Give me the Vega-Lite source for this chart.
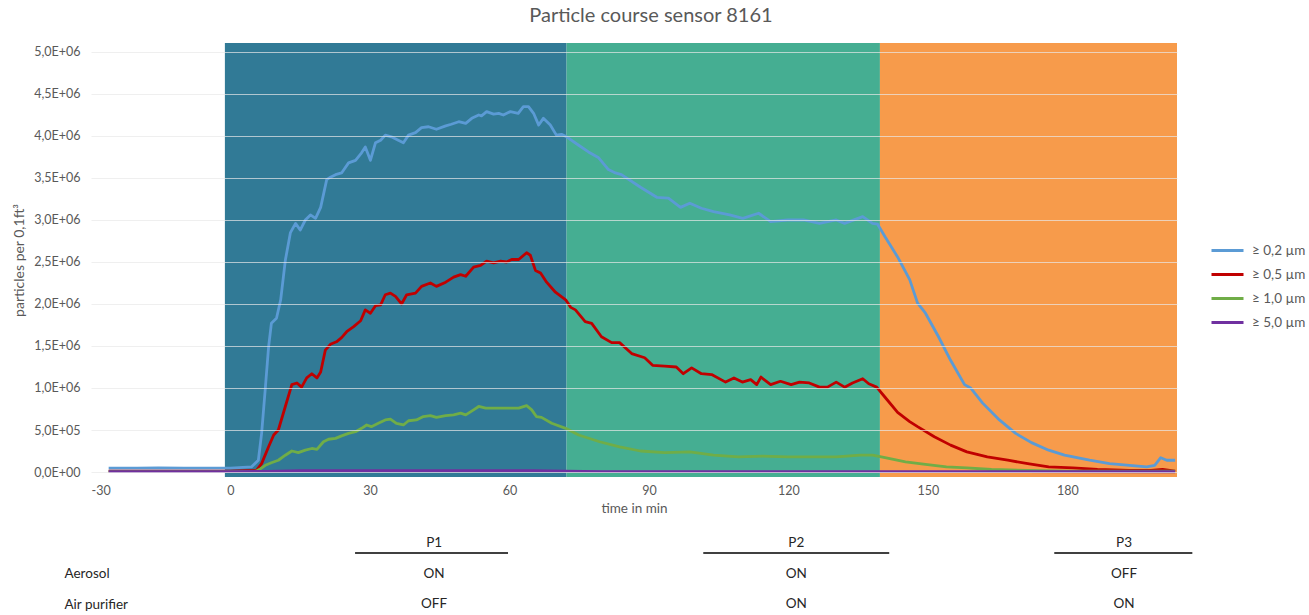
{
  "$schema": "https://vega.github.io/schema/vega-lite/v6.json",
  "width": 1086,
  "height": 434,
  "autosize": {"type": "none"},
  "padding": {"left": 91, "top": 43, "right": 132, "bottom": 138},
  "background": "white",
  "title": {"text": "Particle course sensor 8161", "anchor": "middle", "dx": 17, "offset": 17, "font": "Lato", "fontSize": 20, "fontWeight": "normal", "color": "#595959"},
  "config": {
    "view": {"stroke": null},
    "axis": {"labelFont": "Lato", "labelFontSize": 12.5, "labelColor": "#595959", "titleFont": "Lato", "titleFontSize": 13.5, "titleColor": "#595959", "titleFontWeight": "normal"},
    "legend": {"labelFont": "Lato", "labelFontSize": 13.5, "labelColor": "#595959"}
  },
  "datasets": {
    "regions": [
      {"phase": "P1", "start": -1.2, "end": 72.3},
      {"phase": "P2", "start": 72.3, "end": 139.7},
      {"phase": "P3", "start": 139.7, "end": 203.6}
    ],
    "series": [
      {"s": "≥ 0,2 µm", "t": -26.2, "v": 45000}, {"s": "≥ 0,2 µm", "t": -20, "v": 45000}, {"s": "≥ 0,2 µm", "t": -15.5, "v": 50000}, {"s": "≥ 0,2 µm", "t": -10, "v": 45000}, {"s": "≥ 0,2 µm", "t": -5, "v": 45000}, {"s": "≥ 0,2 µm", "t": 0, "v": 45000}, {"s": "≥ 0,2 µm", "t": 4.5, "v": 60000}, {"s": "≥ 0,2 µm", "t": 6, "v": 140000}, {"s": "≥ 0,2 µm", "t": 6.7, "v": 460000}, {"s": "≥ 0,2 µm", "t": 7.5, "v": 1000000}, {"s": "≥ 0,2 µm", "t": 8.2, "v": 1490000}, {"s": "≥ 0,2 µm", "t": 8.8, "v": 1770000}, {"s": "≥ 0,2 µm", "t": 9.9, "v": 1830000}, {"s": "≥ 0,2 µm", "t": 10.8, "v": 2050000}, {"s": "≥ 0,2 µm", "t": 11.8, "v": 2520000}, {"s": "≥ 0,2 µm", "t": 12.9, "v": 2850000}, {"s": "≥ 0,2 µm", "t": 14, "v": 2960000}, {"s": "≥ 0,2 µm", "t": 15, "v": 2880000}, {"s": "≥ 0,2 µm", "t": 16.1, "v": 3000000}, {"s": "≥ 0,2 µm", "t": 17.2, "v": 3060000}, {"s": "≥ 0,2 µm", "t": 18.3, "v": 3020000}, {"s": "≥ 0,2 µm", "t": 19.4, "v": 3150000}, {"s": "≥ 0,2 µm", "t": 20.7, "v": 3480000}, {"s": "≥ 0,2 µm", "t": 21.5, "v": 3510000}, {"s": "≥ 0,2 µm", "t": 22.6, "v": 3540000}, {"s": "≥ 0,2 µm", "t": 23.9, "v": 3560000}, {"s": "≥ 0,2 µm", "t": 25.4, "v": 3680000}, {"s": "≥ 0,2 µm", "t": 26.9, "v": 3710000}, {"s": "≥ 0,2 µm", "t": 28.2, "v": 3800000}, {"s": "≥ 0,2 µm", "t": 29, "v": 3870000}, {"s": "≥ 0,2 µm", "t": 30.1, "v": 3710000}, {"s": "≥ 0,2 µm", "t": 31.2, "v": 3920000}, {"s": "≥ 0,2 µm", "t": 32.3, "v": 3950000}, {"s": "≥ 0,2 µm", "t": 33.3, "v": 4010000}, {"s": "≥ 0,2 µm", "t": 34.6, "v": 3990000}, {"s": "≥ 0,2 µm", "t": 36.1, "v": 3950000}, {"s": "≥ 0,2 µm", "t": 37.2, "v": 3920000}, {"s": "≥ 0,2 µm", "t": 38.3, "v": 4010000}, {"s": "≥ 0,2 µm", "t": 39.8, "v": 4040000}, {"s": "≥ 0,2 µm", "t": 41.1, "v": 4100000}, {"s": "≥ 0,2 µm", "t": 42.6, "v": 4110000}, {"s": "≥ 0,2 µm", "t": 44.3, "v": 4080000}, {"s": "≥ 0,2 µm", "t": 46.3, "v": 4120000}, {"s": "≥ 0,2 µm", "t": 47.5, "v": 4140000}, {"s": "≥ 0,2 µm", "t": 49.1, "v": 4170000}, {"s": "≥ 0,2 µm", "t": 50.6, "v": 4150000}, {"s": "≥ 0,2 µm", "t": 51.9, "v": 4210000}, {"s": "≥ 0,2 µm", "t": 53.4, "v": 4250000}, {"s": "≥ 0,2 µm", "t": 54, "v": 4240000}, {"s": "≥ 0,2 µm", "t": 55.1, "v": 4290000}, {"s": "≥ 0,2 µm", "t": 56.6, "v": 4260000}, {"s": "≥ 0,2 µm", "t": 57.7, "v": 4270000}, {"s": "≥ 0,2 µm", "t": 58.7, "v": 4250000}, {"s": "≥ 0,2 µm", "t": 60.2, "v": 4290000}, {"s": "≥ 0,2 µm", "t": 61.9, "v": 4270000}, {"s": "≥ 0,2 µm", "t": 63, "v": 4350000}, {"s": "≥ 0,2 µm", "t": 64.1, "v": 4350000}, {"s": "≥ 0,2 µm", "t": 65.2, "v": 4270000}, {"s": "≥ 0,2 µm", "t": 66.3, "v": 4130000}, {"s": "≥ 0,2 µm", "t": 67.3, "v": 4210000}, {"s": "≥ 0,2 µm", "t": 68.8, "v": 4130000}, {"s": "≥ 0,2 µm", "t": 70.1, "v": 4010000}, {"s": "≥ 0,2 µm", "t": 71.2, "v": 4020000}, {"s": "≥ 0,2 µm", "t": 72.3, "v": 3990000}, {"s": "≥ 0,2 µm", "t": 74.9, "v": 3890000}, {"s": "≥ 0,2 µm", "t": 77, "v": 3810000}, {"s": "≥ 0,2 µm", "t": 79.2, "v": 3740000}, {"s": "≥ 0,2 µm", "t": 81.3, "v": 3600000}, {"s": "≥ 0,2 µm", "t": 82.8, "v": 3560000}, {"s": "≥ 0,2 µm", "t": 84.1, "v": 3540000}, {"s": "≥ 0,2 µm", "t": 88.2, "v": 3390000}, {"s": "≥ 0,2 µm", "t": 91.7, "v": 3270000}, {"s": "≥ 0,2 µm", "t": 94.2, "v": 3260000}, {"s": "≥ 0,2 µm", "t": 96.8, "v": 3150000}, {"s": "≥ 0,2 µm", "t": 98.8, "v": 3200000}, {"s": "≥ 0,2 µm", "t": 101.3, "v": 3140000}, {"s": "≥ 0,2 µm", "t": 103.9, "v": 3100000}, {"s": "≥ 0,2 µm", "t": 107.4, "v": 3060000}, {"s": "≥ 0,2 µm", "t": 110.2, "v": 3020000}, {"s": "≥ 0,2 µm", "t": 113.6, "v": 3080000}, {"s": "≥ 0,2 µm", "t": 116.2, "v": 2980000}, {"s": "≥ 0,2 µm", "t": 119.8, "v": 3000000}, {"s": "≥ 0,2 µm", "t": 123.3, "v": 3000000}, {"s": "≥ 0,2 µm", "t": 126.7, "v": 2960000}, {"s": "≥ 0,2 µm", "t": 130.3, "v": 3000000}, {"s": "≥ 0,2 µm", "t": 132.1, "v": 2960000}, {"s": "≥ 0,2 µm", "t": 136, "v": 3040000}, {"s": "≥ 0,2 µm", "t": 138.1, "v": 2960000}, {"s": "≥ 0,2 µm", "t": 139.2, "v": 2950000}, {"s": "≥ 0,2 µm", "t": 140.8, "v": 2800000}, {"s": "≥ 0,2 µm", "t": 143.5, "v": 2560000}, {"s": "≥ 0,2 µm", "t": 146.1, "v": 2290000}, {"s": "≥ 0,2 µm", "t": 147.8, "v": 2010000}, {"s": "≥ 0,2 µm", "t": 149.5, "v": 1890000}, {"s": "≥ 0,2 µm", "t": 152.3, "v": 1610000}, {"s": "≥ 0,2 µm", "t": 154.9, "v": 1330000}, {"s": "≥ 0,2 µm", "t": 157.9, "v": 1040000}, {"s": "≥ 0,2 µm", "t": 159.2, "v": 1000000}, {"s": "≥ 0,2 µm", "t": 161.8, "v": 820000}, {"s": "≥ 0,2 µm", "t": 165.4, "v": 620000}, {"s": "≥ 0,2 µm", "t": 168.9, "v": 460000}, {"s": "≥ 0,2 µm", "t": 172.3, "v": 350000}, {"s": "≥ 0,2 µm", "t": 176, "v": 260000}, {"s": "≥ 0,2 µm", "t": 179.4, "v": 200000}, {"s": "≥ 0,2 µm", "t": 184.8, "v": 140000}, {"s": "≥ 0,2 µm", "t": 189.1, "v": 100000}, {"s": "≥ 0,2 µm", "t": 193.4, "v": 80000}, {"s": "≥ 0,2 µm", "t": 197.1, "v": 60000}, {"s": "≥ 0,2 µm", "t": 198.8, "v": 80000}, {"s": "≥ 0,2 µm", "t": 200.1, "v": 170000}, {"s": "≥ 0,2 µm", "t": 201.4, "v": 140000}, {"s": "≥ 0,2 µm", "t": 203.2, "v": 140000},
      {"s": "≥ 0,5 µm", "t": -26.2, "v": 10000}, {"s": "≥ 0,5 µm", "t": 0, "v": 10000}, {"s": "≥ 0,5 µm", "t": 5.6, "v": 20000}, {"s": "≥ 0,5 µm", "t": 6.7, "v": 100000}, {"s": "≥ 0,5 µm", "t": 8.2, "v": 300000}, {"s": "≥ 0,5 µm", "t": 9.3, "v": 440000}, {"s": "≥ 0,5 µm", "t": 10.3, "v": 500000}, {"s": "≥ 0,5 µm", "t": 11.8, "v": 780000}, {"s": "≥ 0,5 µm", "t": 13.2, "v": 1040000}, {"s": "≥ 0,5 µm", "t": 14.3, "v": 1060000}, {"s": "≥ 0,5 µm", "t": 15.3, "v": 1010000}, {"s": "≥ 0,5 µm", "t": 16.4, "v": 1120000}, {"s": "≥ 0,5 µm", "t": 17.5, "v": 1170000}, {"s": "≥ 0,5 µm", "t": 18.6, "v": 1120000}, {"s": "≥ 0,5 µm", "t": 19.4, "v": 1190000}, {"s": "≥ 0,5 µm", "t": 20.4, "v": 1450000}, {"s": "≥ 0,5 µm", "t": 21.5, "v": 1520000}, {"s": "≥ 0,5 µm", "t": 22.8, "v": 1550000}, {"s": "≥ 0,5 µm", "t": 23.9, "v": 1600000}, {"s": "≥ 0,5 µm", "t": 25, "v": 1670000}, {"s": "≥ 0,5 µm", "t": 26.5, "v": 1730000}, {"s": "≥ 0,5 µm", "t": 28, "v": 1800000}, {"s": "≥ 0,5 µm", "t": 29, "v": 1930000}, {"s": "≥ 0,5 µm", "t": 30.1, "v": 1890000}, {"s": "≥ 0,5 µm", "t": 31.2, "v": 1980000}, {"s": "≥ 0,5 µm", "t": 32.3, "v": 1990000}, {"s": "≥ 0,5 µm", "t": 33.3, "v": 2110000}, {"s": "≥ 0,5 µm", "t": 34.4, "v": 2130000}, {"s": "≥ 0,5 µm", "t": 35.5, "v": 2090000}, {"s": "≥ 0,5 µm", "t": 36.8, "v": 2000000}, {"s": "≥ 0,5 µm", "t": 37.9, "v": 2110000}, {"s": "≥ 0,5 µm", "t": 39.8, "v": 2130000}, {"s": "≥ 0,5 µm", "t": 41.1, "v": 2210000}, {"s": "≥ 0,5 µm", "t": 43, "v": 2250000}, {"s": "≥ 0,5 µm", "t": 44.3, "v": 2210000}, {"s": "≥ 0,5 µm", "t": 46.3, "v": 2260000}, {"s": "≥ 0,5 µm", "t": 48, "v": 2320000}, {"s": "≥ 0,5 µm", "t": 49.5, "v": 2350000}, {"s": "≥ 0,5 µm", "t": 50.6, "v": 2330000}, {"s": "≥ 0,5 µm", "t": 52.3, "v": 2440000}, {"s": "≥ 0,5 µm", "t": 53.8, "v": 2460000}, {"s": "≥ 0,5 µm", "t": 55.1, "v": 2510000}, {"s": "≥ 0,5 µm", "t": 56.6, "v": 2490000}, {"s": "≥ 0,5 µm", "t": 58.1, "v": 2510000}, {"s": "≥ 0,5 µm", "t": 59.4, "v": 2500000}, {"s": "≥ 0,5 µm", "t": 60.5, "v": 2530000}, {"s": "≥ 0,5 µm", "t": 62, "v": 2530000}, {"s": "≥ 0,5 µm", "t": 63.7, "v": 2610000}, {"s": "≥ 0,5 µm", "t": 64.5, "v": 2580000}, {"s": "≥ 0,5 µm", "t": 65.6, "v": 2400000}, {"s": "≥ 0,5 µm", "t": 66.7, "v": 2370000}, {"s": "≥ 0,5 µm", "t": 68, "v": 2260000}, {"s": "≥ 0,5 µm", "t": 69.9, "v": 2140000}, {"s": "≥ 0,5 µm", "t": 72.1, "v": 2050000}, {"s": "≥ 0,5 µm", "t": 73.2, "v": 1960000}, {"s": "≥ 0,5 µm", "t": 74.2, "v": 1930000}, {"s": "≥ 0,5 µm", "t": 76.3, "v": 1790000}, {"s": "≥ 0,5 µm", "t": 77.7, "v": 1770000}, {"s": "≥ 0,5 µm", "t": 79.8, "v": 1610000}, {"s": "≥ 0,5 µm", "t": 82, "v": 1540000}, {"s": "≥ 0,5 µm", "t": 83.7, "v": 1540000}, {"s": "≥ 0,5 µm", "t": 86.3, "v": 1410000}, {"s": "≥ 0,5 µm", "t": 89.1, "v": 1360000}, {"s": "≥ 0,5 µm", "t": 90.8, "v": 1270000}, {"s": "≥ 0,5 µm", "t": 93.4, "v": 1260000}, {"s": "≥ 0,5 µm", "t": 95.9, "v": 1250000}, {"s": "≥ 0,5 µm", "t": 97.4, "v": 1170000}, {"s": "≥ 0,5 µm", "t": 99.2, "v": 1240000}, {"s": "≥ 0,5 µm", "t": 101.3, "v": 1170000}, {"s": "≥ 0,5 µm", "t": 103.5, "v": 1160000}, {"s": "≥ 0,5 µm", "t": 106.5, "v": 1070000}, {"s": "≥ 0,5 µm", "t": 108.3, "v": 1120000}, {"s": "≥ 0,5 µm", "t": 110.1, "v": 1070000}, {"s": "≥ 0,5 µm", "t": 111.9, "v": 1100000}, {"s": "≥ 0,5 µm", "t": 113.2, "v": 1040000}, {"s": "≥ 0,5 µm", "t": 114.1, "v": 1130000}, {"s": "≥ 0,5 µm", "t": 116.2, "v": 1040000}, {"s": "≥ 0,5 µm", "t": 118.3, "v": 1080000}, {"s": "≥ 0,5 µm", "t": 120.6, "v": 1040000}, {"s": "≥ 0,5 µm", "t": 122.4, "v": 1070000}, {"s": "≥ 0,5 µm", "t": 124.5, "v": 1060000}, {"s": "≥ 0,5 µm", "t": 126.7, "v": 1010000}, {"s": "≥ 0,5 µm", "t": 128.4, "v": 1010000}, {"s": "≥ 0,5 µm", "t": 130.3, "v": 1070000}, {"s": "≥ 0,5 µm", "t": 132.1, "v": 1010000}, {"s": "≥ 0,5 µm", "t": 133.8, "v": 1060000}, {"s": "≥ 0,5 µm", "t": 136, "v": 1110000}, {"s": "≥ 0,5 µm", "t": 137.3, "v": 1050000}, {"s": "≥ 0,5 µm", "t": 139, "v": 1010000}, {"s": "≥ 0,5 µm", "t": 140.8, "v": 890000}, {"s": "≥ 0,5 µm", "t": 143.5, "v": 710000}, {"s": "≥ 0,5 µm", "t": 146.1, "v": 600000}, {"s": "≥ 0,5 µm", "t": 147.8, "v": 540000}, {"s": "≥ 0,5 µm", "t": 151.4, "v": 420000}, {"s": "≥ 0,5 µm", "t": 154.9, "v": 320000}, {"s": "≥ 0,5 µm", "t": 158.4, "v": 240000}, {"s": "≥ 0,5 µm", "t": 162.8, "v": 180000}, {"s": "≥ 0,5 µm", "t": 167.2, "v": 140000}, {"s": "≥ 0,5 µm", "t": 171.5, "v": 100000}, {"s": "≥ 0,5 µm", "t": 176, "v": 60000}, {"s": "≥ 0,5 µm", "t": 181.2, "v": 50000}, {"s": "≥ 0,5 µm", "t": 186.5, "v": 30000}, {"s": "≥ 0,5 µm", "t": 193.4, "v": 20000}, {"s": "≥ 0,5 µm", "t": 198, "v": 20000}, {"s": "≥ 0,5 µm", "t": 200.5, "v": 30000}, {"s": "≥ 0,5 µm", "t": 203.2, "v": 10000},
      {"s": "≥ 1,0 µm", "t": -26.2, "v": 5000}, {"s": "≥ 1,0 µm", "t": 0, "v": 5000}, {"s": "≥ 1,0 µm", "t": 5.5, "v": 10000}, {"s": "≥ 1,0 µm", "t": 6.5, "v": 40000}, {"s": "≥ 1,0 µm", "t": 7.5, "v": 80000}, {"s": "≥ 1,0 µm", "t": 8.8, "v": 110000}, {"s": "≥ 1,0 µm", "t": 10.3, "v": 140000}, {"s": "≥ 1,0 µm", "t": 11.8, "v": 200000}, {"s": "≥ 1,0 µm", "t": 13.2, "v": 250000}, {"s": "≥ 1,0 µm", "t": 14.6, "v": 230000}, {"s": "≥ 1,0 µm", "t": 16.1, "v": 260000}, {"s": "≥ 1,0 µm", "t": 17.5, "v": 280000}, {"s": "≥ 1,0 µm", "t": 18.6, "v": 270000}, {"s": "≥ 1,0 µm", "t": 20, "v": 360000}, {"s": "≥ 1,0 µm", "t": 21.1, "v": 390000}, {"s": "≥ 1,0 µm", "t": 22.6, "v": 400000}, {"s": "≥ 1,0 µm", "t": 23.9, "v": 430000}, {"s": "≥ 1,0 µm", "t": 25.4, "v": 460000}, {"s": "≥ 1,0 µm", "t": 26.9, "v": 480000}, {"s": "≥ 1,0 µm", "t": 28.2, "v": 520000}, {"s": "≥ 1,0 µm", "t": 29.3, "v": 560000}, {"s": "≥ 1,0 µm", "t": 30.3, "v": 540000}, {"s": "≥ 1,0 µm", "t": 31.8, "v": 580000}, {"s": "≥ 1,0 µm", "t": 33.3, "v": 620000}, {"s": "≥ 1,0 µm", "t": 34.4, "v": 630000}, {"s": "≥ 1,0 µm", "t": 35.7, "v": 580000}, {"s": "≥ 1,0 µm", "t": 37.2, "v": 560000}, {"s": "≥ 1,0 µm", "t": 38.3, "v": 610000}, {"s": "≥ 1,0 µm", "t": 40, "v": 620000}, {"s": "≥ 1,0 µm", "t": 41.5, "v": 660000}, {"s": "≥ 1,0 µm", "t": 43, "v": 670000}, {"s": "≥ 1,0 µm", "t": 44.3, "v": 650000}, {"s": "≥ 1,0 µm", "t": 46.3, "v": 670000}, {"s": "≥ 1,0 µm", "t": 48, "v": 680000}, {"s": "≥ 1,0 µm", "t": 49.5, "v": 700000}, {"s": "≥ 1,0 µm", "t": 50.6, "v": 680000}, {"s": "≥ 1,0 µm", "t": 52.3, "v": 740000}, {"s": "≥ 1,0 µm", "t": 53.4, "v": 780000}, {"s": "≥ 1,0 µm", "t": 54.9, "v": 760000}, {"s": "≥ 1,0 µm", "t": 56.2, "v": 760000}, {"s": "≥ 1,0 µm", "t": 59.2, "v": 760000}, {"s": "≥ 1,0 µm", "t": 62, "v": 760000}, {"s": "≥ 1,0 µm", "t": 63.7, "v": 790000}, {"s": "≥ 1,0 µm", "t": 64.8, "v": 740000}, {"s": "≥ 1,0 µm", "t": 65.8, "v": 660000}, {"s": "≥ 1,0 µm", "t": 66.9, "v": 650000}, {"s": "≥ 1,0 µm", "t": 69.1, "v": 580000}, {"s": "≥ 1,0 µm", "t": 72.1, "v": 520000}, {"s": "≥ 1,0 µm", "t": 74.9, "v": 440000}, {"s": "≥ 1,0 µm", "t": 79.4, "v": 360000}, {"s": "≥ 1,0 µm", "t": 83.7, "v": 300000}, {"s": "≥ 1,0 µm", "t": 88.2, "v": 250000}, {"s": "≥ 1,0 µm", "t": 93.4, "v": 230000}, {"s": "≥ 1,0 µm", "t": 98.8, "v": 240000}, {"s": "≥ 1,0 µm", "t": 103.9, "v": 200000}, {"s": "≥ 1,0 µm", "t": 109.3, "v": 180000}, {"s": "≥ 1,0 µm", "t": 114.5, "v": 190000}, {"s": "≥ 1,0 µm", "t": 119.8, "v": 180000}, {"s": "≥ 1,0 µm", "t": 125, "v": 180000}, {"s": "≥ 1,0 µm", "t": 130.3, "v": 180000}, {"s": "≥ 1,0 µm", "t": 135.5, "v": 200000}, {"s": "≥ 1,0 µm", "t": 138.1, "v": 200000}, {"s": "≥ 1,0 µm", "t": 140.8, "v": 170000}, {"s": "≥ 1,0 µm", "t": 145.2, "v": 120000}, {"s": "≥ 1,0 µm", "t": 149.5, "v": 90000}, {"s": "≥ 1,0 µm", "t": 154, "v": 60000}, {"s": "≥ 1,0 µm", "t": 158.4, "v": 50000}, {"s": "≥ 1,0 µm", "t": 163.7, "v": 30000}, {"s": "≥ 1,0 µm", "t": 171.5, "v": 20000}, {"s": "≥ 1,0 µm", "t": 180.3, "v": 10000}, {"s": "≥ 1,0 µm", "t": 203.2, "v": 10000},
      {"s": "≥ 5,0 µm", "t": -26.2, "v": 5000}, {"s": "≥ 5,0 µm", "t": 0, "v": 5000}, {"s": "≥ 5,0 µm", "t": 8, "v": 8000}, {"s": "≥ 5,0 µm", "t": 15, "v": 15000}, {"s": "≥ 5,0 µm", "t": 40, "v": 15000}, {"s": "≥ 5,0 µm", "t": 65, "v": 15000}, {"s": "≥ 5,0 µm", "t": 72, "v": 10000}, {"s": "≥ 5,0 µm", "t": 80, "v": 5000}, {"s": "≥ 5,0 µm", "t": 140, "v": 5000}, {"s": "≥ 5,0 µm", "t": 203.2, "v": 3000}
    ],
    "table": [
      {"t": 43.8, "row": "head", "label": "P1"}, {"t": 43.8, "row": "Aerosol", "label": "ON"}, {"t": 43.8, "row": "Air purifier", "label": "OFF"},
      {"t": 121.7, "row": "head", "label": "P2"}, {"t": 121.7, "row": "Aerosol", "label": "ON"}, {"t": 121.7, "row": "Air purifier", "label": "ON"},
      {"t": 192.2, "row": "head", "label": "P3"}, {"t": 192.2, "row": "Aerosol", "label": "OFF"}, {"t": 192.2, "row": "Air purifier", "label": "ON"}
    ],
    "rules": [
      {"phase": "P1", "from": 26.8, "to": 59.7, "row": "head"},
      {"phase": "P2", "from": 101.7, "to": 141.7, "row": "head"},
      {"phase": "P3", "from": 177.2, "to": 206.9, "row": "head"}
    ]
  },
  "layer": [
    {
      "layer": [
        {
          "data": {"name": "regions"},
          "mark": {"type": "rect"},
          "encoding": {
            "x": {"field": "start", "type": "quantitative", "scale": {"domain": [-30, 203.6], "nice": false, "zero": false}, "axis": {"values": [-30, 0, 30, 60, 90, 120, 150, 180], "labelExpr": "datum.value < 0 ? '-' + abs(datum.value) : '' + datum.value", "title": "time in min", "grid": false, "ticks": false, "domain": false, "labelPadding": 7, "titlePadding": 5}},
            "x2": {"field": "end"},
            "y": {"datum": 5107000, "type": "quantitative", "scale": {"domain": [-59500, 5107000], "nice": false, "zero": false}, "axis": {"values": [0, 500000, 1000000, 1500000, 2000000, 2500000, 3000000, 3500000, 4000000, 4500000, 5000000], "labelExpr": "replace(replace(format(datum.value, '.1e'), '.', ','), 'e+', 'E+0')", "title": "particles per 0,1ft³", "titleFontSize": 14, "grid": true, "gridColor": "#e8e8e8", "gridOpacity": 0.7, "gridWidth": 1.2, "ticks": false, "domain": false, "labelPadding": 11, "titlePadding": 7, "zindex": 1}},
            "y2": {"datum": -59500},
            "fill": {"field": "phase", "type": "nominal", "scale": {"domain": ["P1", "P2", "P3"], "range": ["#317A96", "#45AE92", "#F79B4B"]}, "legend": null}
          }
        },
        {
          "data": {"name": "series"},
          "mark": {"type": "line", "strokeWidth": 2.8, "strokeJoin": "round"},
          "encoding": {
            "x": {"field": "t", "type": "quantitative", "title": "time in min"},
            "y": {"field": "v", "type": "quantitative", "title": "particles per 0,1ft³"},
            "color": {"field": "s", "type": "nominal", "sort": null, "scale": {"domain": ["≥ 0,2 µm", "≥ 0,5 µm", "≥ 1,0 µm", "≥ 5,0 µm"], "range": ["#5B9BD5", "#C00000", "#70AD47", "#7030A0"]}, "legend": {"title": null, "orient": "none", "legendX": 1119, "legendY": 190, "symbolType": "stroke", "symbolSize": 1024, "symbolStrokeWidth": 3, "labelOffset": 7, "rowPadding": -13}}
          }
        }
      ]
    },
    {
      "layer": [
        {
          "data": {"name": "table"},
          "mark": {"type": "text", "font": "Lato", "fontSize": 13.5, "color": "#262626", "baseline": "middle", "align": "center"},
          "encoding": {
            "x": {"field": "t", "type": "quantitative", "title": "time in min"},
            "y": {"field": "row", "type": "nominal", "scale": {"type": "point", "domain": ["head", "Aerosol", "Air purifier"], "range": [500, 561], "padding": 0}, "axis": {"orient": "left", "title": null, "labelExpr": "datum.value == 'head' ? '' : datum.value", "labelAlign": "left", "labelPadding": 27, "ticks": false, "domain": false, "grid": false, "labelFontSize": 13.5, "labelColor": "#262626"}},
            "text": {"field": "label"},
            "yOffset": {"condition": {"test": "datum.row == 'head'", "value": -8}, "value": 0}
          }
        },
        {
          "data": {"name": "rules"},
          "mark": {"type": "rule", "color": "#404040", "strokeWidth": 2, "yOffset": 10},
          "encoding": {
            "x": {"field": "from", "type": "quantitative", "title": "time in min"},
            "x2": {"field": "to"},
            "y": {"field": "row", "type": "nominal"}
          }
        }
      ]
    }
  ],
  "resolve": {"scale": {"y": "independent"}, "axis": {"y": "independent"}}
}
